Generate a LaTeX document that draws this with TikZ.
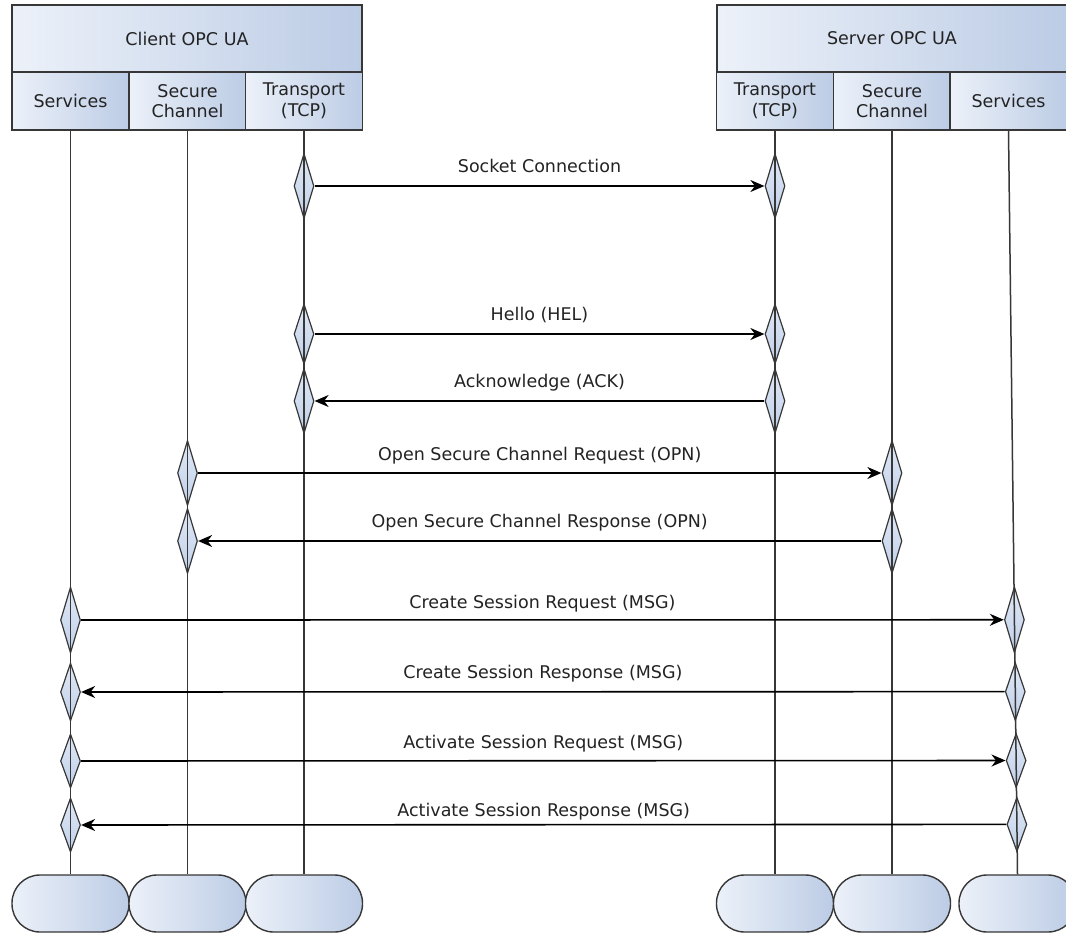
\documentclass[tikz,border=0pt]{standalone}
\usepackage{fontspec}
\setmainfont{DejaVu Sans}
\usetikzlibrary{shapes.geometric,arrows.meta,calc}

\definecolor{boxlight}{RGB}{236,241,249}
\definecolor{boxdark}{RGB}{188,204,229}
\definecolor{edge}{RGB}{55,55,55}
\definecolor{ink}{RGB}{35,35,35}
\definecolor{dialight}{RGB}{224,232,245}
\definecolor{diadark}{RGB}{192,208,233}

\begin{document}
\begin{tikzpicture}[x=1pt,y=-1pt,
  every node/.style={font=\fontsize{17.5}{20.5}\selectfont, text=ink},
  hbox/.style={draw=edge, line width=1.4pt, left color=boxlight, right color=boxdark,
    inner sep=0pt, align=center, minimum height=58pt, minimum width=117pt},
  headbox/.style={hbox, minimum height=67pt},
  endbox/.style={draw=edge, line width=1.4pt, left color=boxlight, right color=boxdark,
    rounded corners=28pt, minimum width=117pt, minimum height=57pt, inner sep=0pt},
  life/.style={draw=edge, line width=1.5pt},
  dia/.style={diamond, draw=edge, line width=1.2pt, top color=dialight, bottom color=diadark,
    minimum width=20pt, minimum height=65pt, inner sep=0pt},
  msg/.style={line width=1.6pt, draw=black,
    -{Stealth[length=14pt,width=12pt,inset=4.5pt]}},
  lbl/.style={midway, yshift=18pt, inner sep=0pt, text height=12pt, text depth=3pt}
]
\clip (0,0) rectangle (1066,934);
\fill[white] (0,0) rectangle (1066,934);

% client stack
\node[headbox, minimum width=350pt] (chead) at (187,38.5) {Client OPC UA};
\node[hbox] (csvc) at (70.5,101) {Services};
\node[hbox] (csec) at (187.5,101) {Secure\\Channel};
\node[hbox] (ctcp) at (304,101) {Transport\\(TCP)};

% server stack
\node[headbox, minimum width=350pt] (shead) at (892,38.5) {Server OPC UA};
\node[hbox] (stcp) at (775,101) {Transport\\(TCP)};
\node[hbox] (ssec) at (892,101) {Secure\\Channel};
\node[hbox] (ssvc) at (1008.5,101) {Services};

% lifeline terminators
\node[endbox] (ce1) at (70.5,903.5) {};
\node[endbox] (ce2) at (187.5,903.5) {};
\node[endbox] (ce3) at (304,903.5) {};
\node[endbox] (se1) at (775,903.5) {};
\node[endbox] (se2) at (892,903.5) {};
\node[endbox] (se3) at (1017.5,903.5) {};

% activation diamonds
\node[dia] (m1a) at (ctcp.south |- 0,186) {};
\node[dia] (m1b) at (stcp.south |- 0,186) {};
\node[dia, minimum height=60pt] (m2a) at (ctcp.south |- 0,334) {};
\node[dia, minimum height=60pt] (m2b) at (stcp.south |- 0,334) {};
\node[dia] (m3a) at (ctcp.south |- 0,401) {};
\node[dia] (m3b) at (stcp.south |- 0,401) {};
\node[dia] (m4a) at (csec.south |- 0,473) {};
\node[dia] (m4b) at (ssec.south |- 0,473) {};
\node[dia] (m5a) at (csec.south |- 0,541) {};
\node[dia] (m5b) at (ssec.south |- 0,541) {};
\node[dia, minimum height=66pt] (m6a) at (csvc.south |- 0,620) {};
\node[dia, minimum height=66pt] (m6b) at ($(ssvc.south)!{(620-130)/745}!(se3.north)$) {};
\node[dia, minimum height=58pt] (m7a) at (csvc.south |- 0,692) {};
\node[dia, minimum height=58pt] (m7b) at ($(ssvc.south)!{(692-130)/745}!(se3.north)$) {};
\node[dia, minimum height=54pt] (m8a) at (csvc.south |- 0,761) {};
\node[dia, minimum height=54pt] (m8b) at ($(ssvc.south)!{(761-130)/745}!(se3.north)$) {};
\node[dia, minimum height=54pt] (m9a) at (csvc.south |- 0,825) {};
\node[dia, minimum height=54pt] (m9b) at ($(ssvc.south)!{(825-130)/745}!(se3.north)$) {};

% lifelines
\draw[life] (csvc.south) -- (ce1.north);
\draw[life] (csec.south) -- (ce2.north);
\draw[life] (ctcp.south) -- (ce3.north);
\draw[life] (stcp.south) -- (se1.north);
\draw[life] (ssec.south) -- (se2.north);
\draw[life] (ssvc.south) -- (se3.north);

% messages
\draw[msg] (m1a.east) -- (m1b.west) node[lbl] {Socket Connection};
\draw[msg] (m2a.east) -- (m2b.west) node[lbl] {Hello (HEL)};
\draw[msg] (m3b.west) -- (m3a.east) node[lbl] {Acknowledge (ACK)};
\draw[msg] (m4a.east) -- (m4b.west) node[lbl, yshift=-1pt] {Open Secure Channel Request (OPN)};
\draw[msg] (m5b.west) -- (m5a.east) node[lbl] {Open Secure Channel Response (OPN)};
\draw[msg] (m6a.east) -- (m6b.west) node[lbl, yshift=-2pt] {Create Session Request (MSG)};
\draw[msg] (m7b.west) -- (m7a.east) node[lbl] {Create Session Response (MSG)};
\draw[msg] (m8a.east) -- (m8b.west) node[lbl, yshift=-1pt] {Activate Session Request (MSG)};
\draw[msg] (m9b.west) -- (m9a.east) node[lbl, yshift=-5pt] {Activate Session Response (MSG)};
\end{tikzpicture}
\end{document}
